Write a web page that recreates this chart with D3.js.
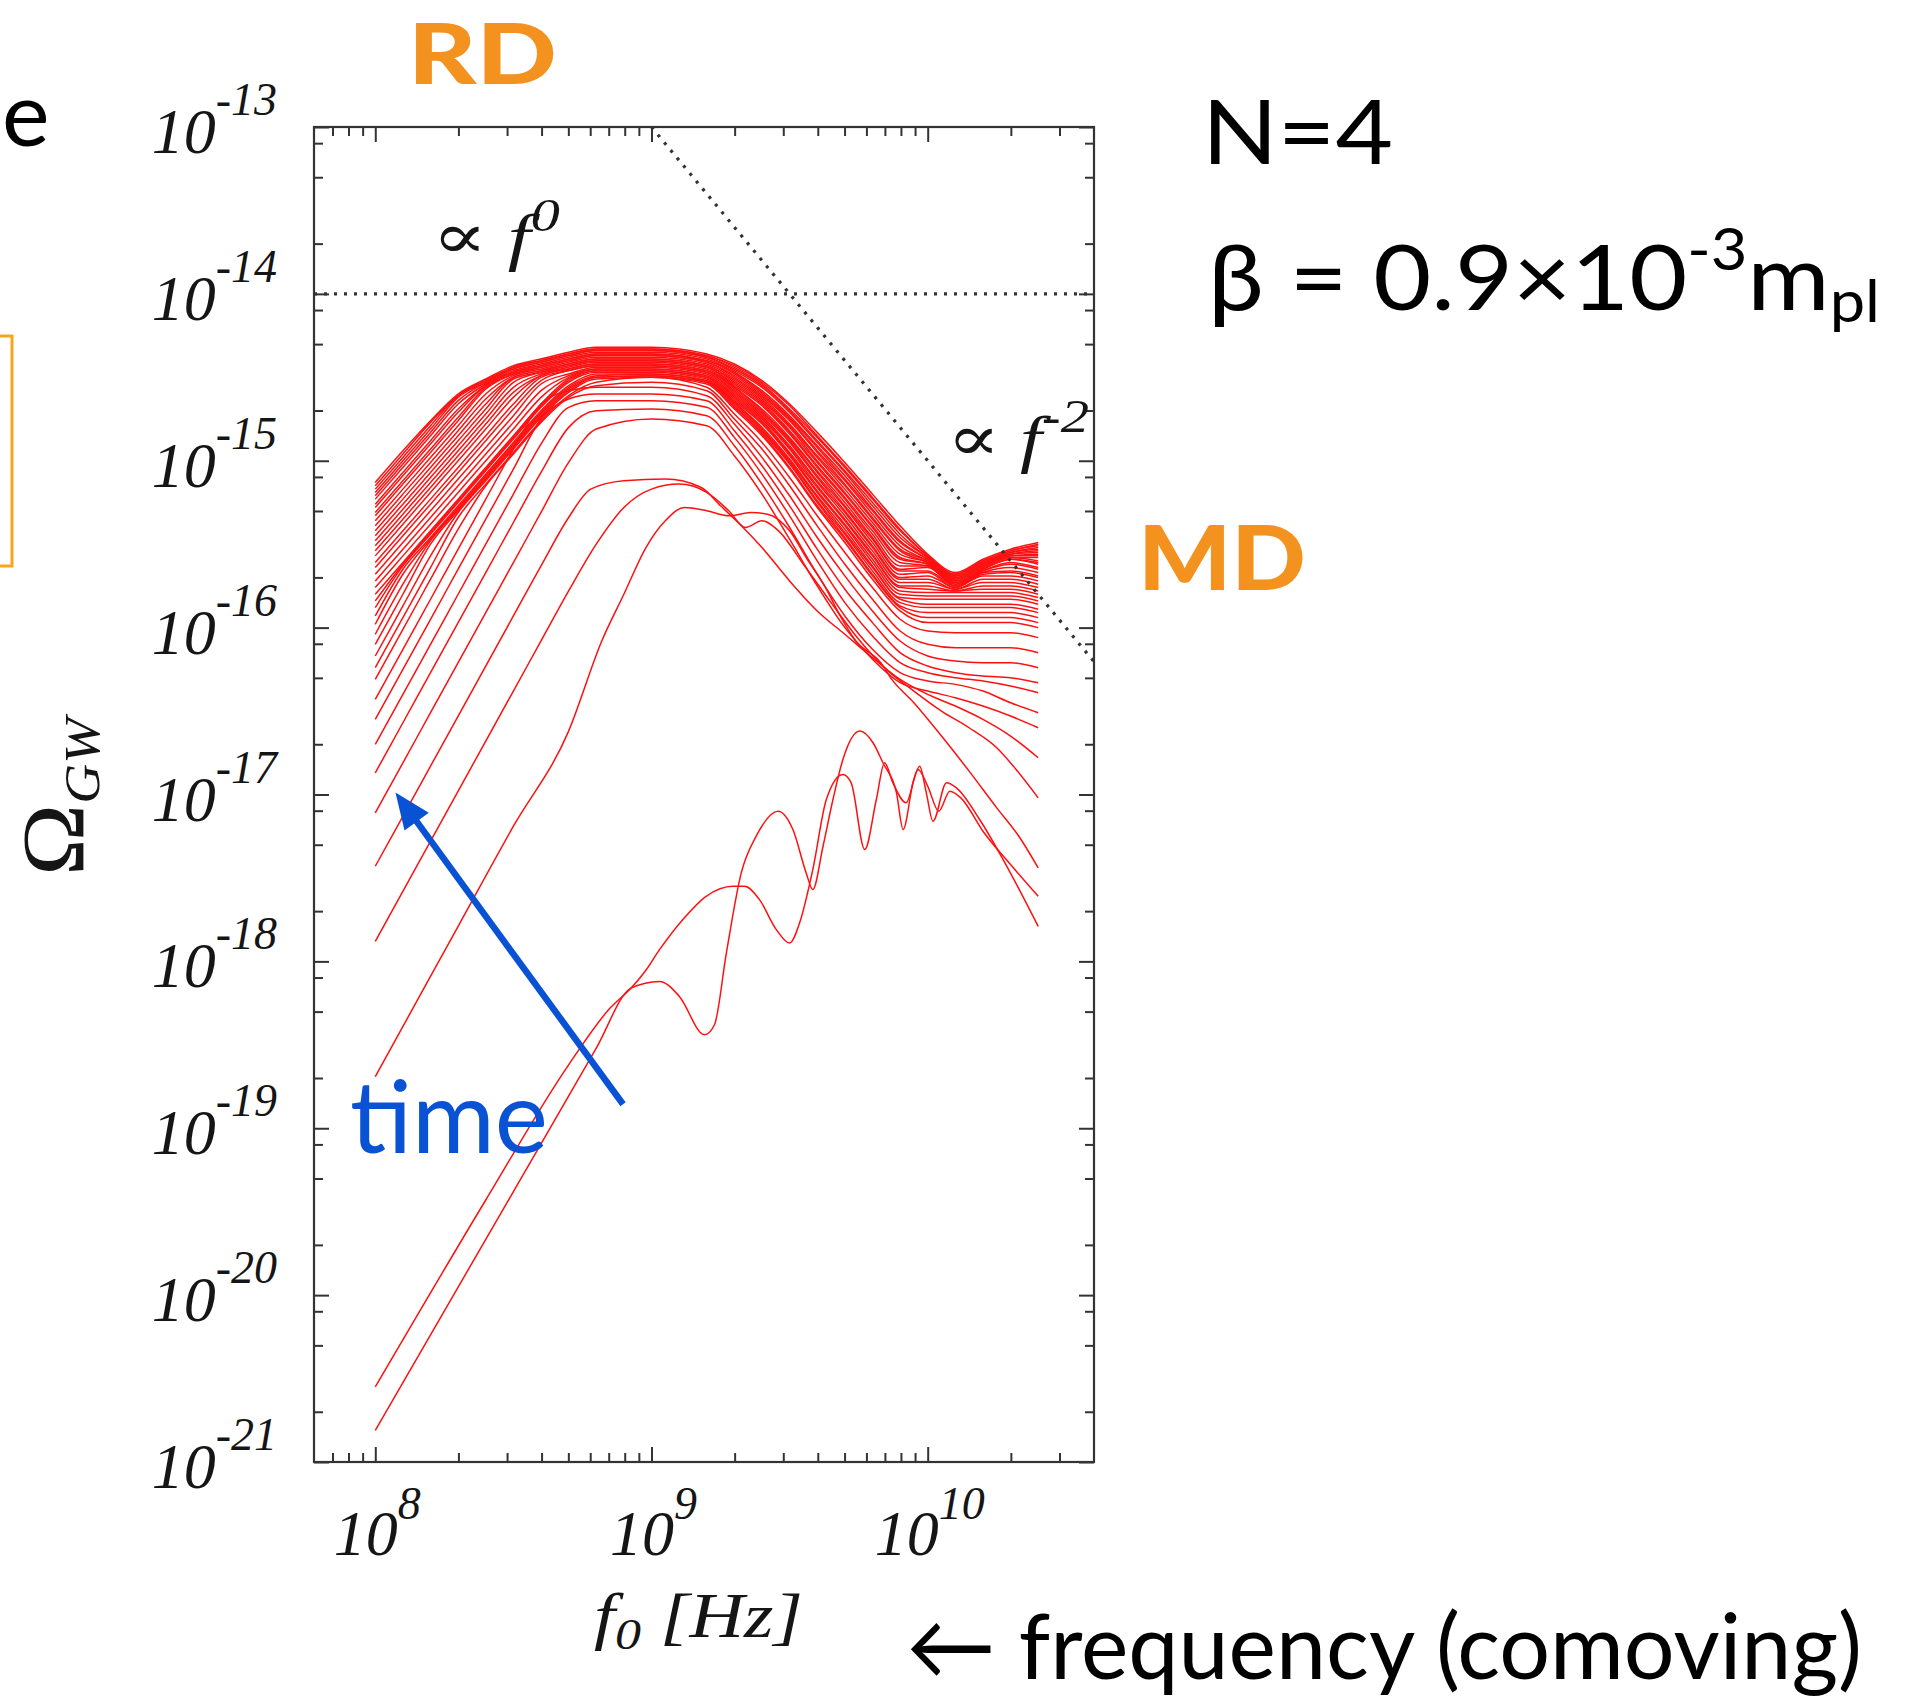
<!DOCTYPE html>
<html><head><meta charset="utf-8">
<script src="https://cdn.jsdelivr.net/npm/d3@7"></script>
<style>
html,body{margin:0;padding:0;background:#fff;overflow:hidden}
svg{display:block}
</style></head><body>
<svg id="chart" width="1908" height="1699"></svg>
<script>
// ---------------- DATA ----------------
// Axis ticks (powers of ten)
const xTickExponents = [8, 9, 10];
const yTickExponents = [-13, -14, -15, -16, -17, -18, -19, -20, -21];
const yMinorMantissas = [2, 5, 8];

// Shared frequency grid: log10(f0 / Hz)
const freqGridLog = [8.0, 8.1, 8.2, 8.3, 8.4, 8.5, 8.6, 8.7, 8.8, 9.0, 9.2, 9.3, 9.4, 9.5, 9.6, 9.7, 9.8, 9.9, 10.0, 10.1, 10.2, 10.3, 10.4];

// log10(Omega_GW) on the grid, one array per time snapshot (latest first)
const logOmegaT00 = [-15.13,-14.94,-14.76,-14.60,-14.51,-14.43,-14.39,-14.35,-14.32,-14.32,-14.36,-14.42,-14.52,-14.66,-14.83,-15.01,-15.20,-15.39,-15.56,-15.67,-15.59,-15.53,-15.49];
const logOmegaT01 = [-15.15,-14.96,-14.77,-14.61,-14.52,-14.44,-14.40,-14.36,-14.33,-14.33,-14.37,-14.43,-14.53,-14.67,-14.85,-15.03,-15.22,-15.41,-15.57,-15.68,-15.60,-15.54,-15.50];
const logOmegaT02 = [-15.17,-14.98,-14.79,-14.61,-14.52,-14.44,-14.40,-14.36,-14.33,-14.33,-14.37,-14.44,-14.54,-14.69,-14.86,-15.04,-15.23,-15.42,-15.57,-15.68,-15.60,-15.54,-15.51];
const logOmegaT03 = [-15.19,-15.00,-14.81,-14.62,-14.53,-14.45,-14.41,-14.37,-14.34,-14.34,-14.38,-14.45,-14.55,-14.70,-14.88,-15.06,-15.25,-15.44,-15.58,-15.69,-15.61,-15.55,-15.52];
const logOmegaT04 = [-15.21,-15.02,-14.83,-14.64,-14.53,-14.45,-14.41,-14.37,-14.34,-14.34,-14.38,-14.46,-14.56,-14.71,-14.89,-15.07,-15.27,-15.46,-15.58,-15.69,-15.61,-15.55,-15.53];
const logOmegaT05 = [-15.23,-15.04,-14.85,-14.66,-14.54,-14.46,-14.42,-14.38,-14.35,-14.35,-14.39,-14.47,-14.58,-14.73,-14.91,-15.09,-15.29,-15.48,-15.59,-15.70,-15.62,-15.56,-15.54];
const logOmegaT06 = [-15.26,-15.07,-14.88,-14.69,-14.55,-14.47,-14.43,-14.39,-14.36,-14.36,-14.40,-14.47,-14.59,-14.74,-14.92,-15.11,-15.30,-15.49,-15.59,-15.70,-15.62,-15.56,-15.55];
const logOmegaT07 = [-15.28,-15.09,-14.90,-14.71,-14.55,-14.47,-14.43,-14.39,-14.36,-14.36,-14.40,-14.48,-14.60,-14.75,-14.94,-15.12,-15.32,-15.51,-15.60,-15.71,-15.63,-15.57,-15.56];
const logOmegaT08 = [-15.31,-15.12,-14.93,-14.74,-14.56,-14.48,-14.44,-14.40,-14.37,-14.37,-14.41,-14.49,-14.61,-14.76,-14.95,-15.14,-15.34,-15.53,-15.60,-15.71,-15.63,-15.57,-15.57];
const logOmegaT09 = [-15.33,-15.14,-14.95,-14.76,-14.57,-14.48,-14.44,-14.40,-14.37,-14.37,-14.41,-14.50,-14.62,-14.78,-14.97,-15.15,-15.35,-15.54,-15.61,-15.72,-15.64,-15.58,-15.58];
const logOmegaT10 = [-15.36,-15.17,-14.98,-14.79,-14.60,-14.49,-14.45,-14.41,-14.38,-14.38,-14.42,-14.51,-14.63,-14.79,-14.98,-15.17,-15.37,-15.56,-15.61,-15.72,-15.64,-15.58,-15.60];
const logOmegaT11 = [-15.39,-15.20,-15.01,-14.82,-14.63,-14.50,-14.46,-14.42,-14.39,-14.39,-14.43,-14.52,-14.64,-14.80,-15.00,-15.19,-15.39,-15.58,-15.62,-15.73,-15.65,-15.59,-15.61];
const logOmegaT12 = [-15.42,-15.23,-15.04,-14.85,-14.66,-14.50,-14.46,-14.42,-14.39,-14.39,-14.43,-14.53,-14.65,-14.82,-15.01,-15.20,-15.40,-15.59,-15.62,-15.73,-15.65,-15.59,-15.62];
const logOmegaT13 = [-15.45,-15.26,-15.07,-14.88,-14.69,-14.51,-14.47,-14.43,-14.40,-14.40,-14.44,-14.54,-14.66,-14.83,-15.03,-15.22,-15.42,-15.61,-15.63,-15.74,-15.66,-15.61,-15.64];
const logOmegaT14 = [-15.48,-15.29,-15.10,-14.91,-14.72,-14.53,-14.47,-14.43,-14.40,-14.40,-14.44,-14.55,-14.67,-14.84,-15.04,-15.23,-15.44,-15.63,-15.63,-15.74,-15.66,-15.62,-15.65];
const logOmegaT15 = [-15.51,-15.32,-15.13,-14.94,-14.75,-14.56,-14.48,-14.44,-14.41,-14.41,-14.45,-14.56,-14.69,-14.86,-15.06,-15.25,-15.46,-15.65,-15.64,-15.75,-15.67,-15.64,-15.67];
const logOmegaT16 = [-15.54,-15.35,-15.16,-14.97,-14.78,-14.59,-14.49,-14.45,-14.42,-14.42,-14.46,-14.56,-14.70,-14.87,-15.07,-15.27,-15.47,-15.66,-15.66,-15.75,-15.67,-15.66,-15.69];
const logOmegaT17 = [-15.57,-15.38,-15.19,-15.00,-14.81,-14.62,-14.49,-14.45,-14.42,-14.42,-14.46,-14.57,-14.71,-14.88,-15.09,-15.28,-15.49,-15.68,-15.67,-15.76,-15.68,-15.67,-15.70];
const logOmegaT18 = [-15.61,-15.42,-15.23,-15.04,-14.85,-14.66,-14.50,-14.46,-14.43,-14.43,-14.47,-14.58,-14.72,-14.89,-15.10,-15.30,-15.51,-15.70,-15.69,-15.76,-15.69,-15.69,-15.72];
const logOmegaT19 = [-15.64,-15.45,-15.26,-15.07,-14.88,-14.69,-14.52,-14.46,-14.43,-14.43,-14.47,-14.59,-14.73,-14.91,-15.12,-15.31,-15.52,-15.71,-15.71,-15.77,-15.71,-15.71,-15.74];
const logOmegaT20 = [-15.68,-15.49,-15.30,-15.11,-14.92,-14.73,-14.54,-14.48,-14.44,-14.44,-14.48,-14.60,-14.74,-14.92,-15.13,-15.33,-15.54,-15.73,-15.73,-15.77,-15.73,-15.73,-15.76];
const logOmegaT21 = [-15.72,-15.53,-15.34,-15.15,-14.96,-14.77,-14.58,-14.49,-14.45,-14.45,-14.49,-14.61,-14.75,-14.93,-15.15,-15.35,-15.56,-15.75,-15.75,-15.78,-15.75,-15.75,-15.78];
const logOmegaT22 = [-15.76,-15.57,-15.38,-15.19,-15.00,-14.81,-14.62,-14.50,-14.45,-14.45,-14.49,-14.62,-14.76,-14.95,-15.16,-15.36,-15.57,-15.76,-15.77,-15.78,-15.77,-15.77,-15.80];
const logOmegaT23 = [-15.80,-15.61,-15.42,-15.23,-15.04,-14.85,-14.66,-14.51,-14.46,-14.46,-14.50,-14.63,-14.77,-14.96,-15.18,-15.38,-15.59,-15.78,-15.79,-15.79,-15.79,-15.79,-15.82];
const logOmegaT24 = [-15.84,-15.62,-15.43,-15.24,-15.05,-14.86,-14.67,-14.52,-14.46,-14.46,-14.50,-14.64,-14.78,-14.97,-15.19,-15.39,-15.61,-15.80,-15.81,-15.81,-15.81,-15.81,-15.84];
const logOmegaT25 = [-15.88,-15.63,-15.44,-15.25,-15.06,-14.87,-14.68,-14.53,-14.47,-14.47,-14.51,-14.65,-14.80,-14.99,-15.21,-15.41,-15.63,-15.82,-15.83,-15.83,-15.83,-15.83,-15.86];
const logOmegaT26 = [-15.93,-15.65,-15.46,-15.27,-15.08,-14.89,-14.70,-14.55,-14.48,-14.48,-14.52,-14.65,-14.81,-15.00,-15.22,-15.43,-15.64,-15.83,-15.86,-15.86,-15.86,-15.86,-15.89];
const logOmegaT27 = [-15.98,-15.68,-15.47,-15.28,-15.09,-14.90,-14.71,-14.56,-14.49,-14.48,-14.52,-14.66,-14.82,-15.01,-15.24,-15.44,-15.66,-15.85,-15.88,-15.88,-15.88,-15.88,-15.91];
const logOmegaT28 = [-16.04,-15.74,-15.48,-15.29,-15.10,-14.91,-14.72,-14.57,-14.50,-14.49,-14.53,-14.67,-14.83,-15.02,-15.25,-15.46,-15.68,-15.87,-15.91,-15.91,-15.91,-15.91,-15.94];
const logOmegaT29 = [-16.10,-15.80,-15.50,-15.30,-15.11,-14.92,-14.73,-14.58,-14.50,-14.49,-14.53,-14.68,-14.84,-15.04,-15.27,-15.47,-15.69,-15.88,-15.94,-15.94,-15.94,-15.94,-15.97];
const logOmegaT30 = [-16.17,-15.87,-15.57,-15.31,-15.12,-14.93,-14.74,-14.59,-14.51,-14.50,-14.54,-14.69,-14.85,-15.05,-15.28,-15.49,-15.71,-15.90,-15.97,-15.97,-15.97,-15.97,-16.00];
const logOmegaT31 = [-16.24,-15.94,-15.64,-15.34,-15.14,-14.95,-14.76,-14.61,-14.53,-14.50,-14.56,-14.72,-14.89,-15.10,-15.33,-15.55,-15.76,-15.95,-16.02,-16.03,-16.03,-16.03,-16.06];
const logOmegaT32 = [-16.31,-16.01,-15.71,-15.41,-15.15,-14.96,-14.77,-14.62,-14.55,-14.53,-14.58,-14.75,-14.93,-15.15,-15.39,-15.62,-15.83,-16.02,-16.10,-16.12,-16.12,-16.12,-16.15];
const logOmegaT33 = [-16.43,-16.13,-15.83,-15.53,-15.23,-14.93,-14.66,-14.58,-14.56,-14.56,-14.61,-14.78,-14.98,-15.21,-15.46,-15.69,-15.90,-16.08,-16.17,-16.20,-16.21,-16.21,-16.24];
const logOmegaT34 = [-16.55,-16.25,-15.95,-15.65,-15.35,-15.05,-14.75,-14.63,-14.60,-14.60,-14.64,-14.82,-15.03,-15.27,-15.53,-15.77,-15.97,-16.15,-16.23,-16.27,-16.29,-16.30,-16.33];
const logOmegaT35 = [-16.70,-16.40,-16.10,-15.80,-15.50,-15.20,-14.90,-14.68,-14.64,-14.64,-14.68,-14.86,-15.08,-15.33,-15.60,-15.85,-16.05,-16.21,-16.27,-16.30,-16.32,-16.35,-16.39];
const logOmegaT36 = [-16.87,-16.57,-16.27,-15.97,-15.67,-15.37,-15.07,-14.80,-14.70,-14.69,-14.73,-14.91,-15.14,-15.40,-15.68,-15.93,-16.13,-16.27,-16.32,-16.34,-16.38,-16.45,-16.51];
const logOmegaT37 = [-17.11,-16.81,-16.51,-16.21,-15.91,-15.61,-15.31,-15.01,-14.81,-14.75,-14.79,-14.97,-15.20,-15.47,-15.75,-16.00,-16.19,-16.33,-16.38,-16.42,-16.47,-16.53,-16.60];

// Early snapshots with their own knots: [log10 f, log10 Omega]
const logKnotsT38 = [[8.0,-17.43],[8.3,-16.53],[8.5,-15.93],[8.6,-15.63],[8.7,-15.34],[8.78,-15.17],[8.9,-15.12],[9.05,-15.11],[9.18,-15.16],[9.25,-15.27],[9.32,-15.38],[9.4,-15.52],[9.5,-15.72],[9.6,-15.90],[9.7,-16.04],[9.8,-16.18],[9.9,-16.31],[10.0,-16.40],[10.1,-16.47],[10.2,-16.55],[10.3,-16.65],[10.4,-16.78]];
const logKnotsT39 = [[8.0,-17.88],[8.3,-16.98],[8.5,-16.38],[8.6,-16.08],[8.7,-15.78],[8.8,-15.50],[8.9,-15.28],[9.0,-15.17],[9.1,-15.14],[9.2,-15.19],[9.28,-15.30],[9.34,-15.40],[9.40,-15.36],[9.46,-15.42],[9.55,-15.62],[9.65,-15.85],[9.75,-16.07],[9.85,-16.25],[9.95,-16.38],[10.05,-16.50],[10.15,-16.60],[10.25,-16.72],[10.32,-16.85],[10.4,-17.02]];
const logKnotsT40 = [[8.0,-18.69],[8.3,-17.79],[8.5,-17.19],[8.7,-16.62],[8.82,-16.08],[8.9,-15.80],[8.98,-15.52],[9.05,-15.36],[9.12,-15.28],[9.2,-15.30],[9.28,-15.33],[9.36,-15.31],[9.42,-15.32],[9.5,-15.42],[9.56,-15.58],[9.63,-15.76],[9.68,-15.92],[9.74,-16.08],[9.83,-16.21],[9.87,-16.31],[9.95,-16.45],[10.05,-16.65],[10.15,-16.86],[10.25,-17.08],[10.33,-17.25],[10.4,-17.44]];
const logKnotsT41 = [[8.0,-20.55],[8.4,-19.43],[8.7,-18.62],[8.85,-18.28],[8.926,-18.16],[8.981,-18.05],[9.029,-17.93],[9.113,-17.75],[9.198,-17.61],[9.295,-17.55],[9.337,-17.55],[9.391,-17.63],[9.452,-17.81],[9.50,-17.89],[9.536,-17.77],[9.584,-17.45],[9.633,-17.03],[9.693,-16.88],[9.723,-16.93],[9.772,-17.33],[9.814,-17.03],[9.844,-16.81],[9.874,-16.93],[9.922,-17.05],[9.965,-16.85],[10.0,-16.95],[10.04,-17.10],[10.08,-16.98],[10.12,-17.02],[10.2,-17.22],[10.3,-17.42],[10.4,-17.61]];
const logKnotsT42 = [[8.0,-20.81],[8.5,-19.38],[8.8,-18.52],[8.926,-18.16],[9.029,-18.12],[9.101,-18.21],[9.192,-18.44],[9.228,-18.38],[9.271,-17.95],[9.325,-17.47],[9.379,-17.25],[9.458,-17.10],[9.512,-17.21],[9.56,-17.47],[9.584,-17.57],[9.621,-17.31],[9.657,-17.03],[9.693,-16.79],[9.754,-16.62],[9.802,-16.69],[9.838,-16.81],[9.887,-16.99],[9.911,-17.21],[9.947,-16.93],[9.971,-16.83],[9.995,-16.99],[10.019,-17.16],[10.068,-16.93],[10.104,-16.96],[10.188,-17.15],[10.273,-17.39],[10.4,-17.79]];

// Reference power laws (dotted): Omega ∝ f^0 and Omega ∝ f^-2
const flatLineF = [6e7, 4e10];
const flatLineOmega = [1e-14, 1e-14];
const steepLineF = [1e9, 4e10];
const steepLineOmega = [1e-13, 6.25e-17];

// "time" arrow, in data units
const arrowTailLog = [8.897, -18.856];
const arrowTipLog = [8.073, -16.988];

// ---------------- DRAWING ----------------
const svg = d3.select("#chart");
const L = 314, R = 1094, T = 127, B = 1462;
const x = d3.scaleLog().domain([6e7, 4e10]).range([L, R]);
const y = d3.scaleLog().domain([1e-21, 1e-13]).range([B, T]);
const serif = "'Liberation Serif','Times New Roman','DejaVu Serif',serif";
const sans = "Lato,'Open Sans','Noto Sans',sans-serif";

svg.append("rect").attr("width",1908).attr("height",1699).attr("fill","#fff");
svg.append("defs").append("clipPath").attr("id","plotClip")
  .append("rect").attr("x",L).attr("y",T).attr("width",R-L).attr("height",B-T);

const gridSeries = [logOmegaT00,logOmegaT01,logOmegaT02,logOmegaT03,logOmegaT04,logOmegaT05,logOmegaT06,logOmegaT07,logOmegaT08,logOmegaT09,
  logOmegaT10,logOmegaT11,logOmegaT12,logOmegaT13,logOmegaT14,logOmegaT15,logOmegaT16,logOmegaT17,logOmegaT18,logOmegaT19,
  logOmegaT20,logOmegaT21,logOmegaT22,logOmegaT23,logOmegaT24,logOmegaT25,logOmegaT26,logOmegaT27,logOmegaT28,logOmegaT29,
  logOmegaT30,logOmegaT31,logOmegaT32,logOmegaT33,logOmegaT34,logOmegaT35,logOmegaT36,logOmegaT37];
const knotSeries = [logKnotsT38, logKnotsT39, logKnotsT40, logKnotsT41, logKnotsT42];
const allSeries = gridSeries.map(vals => vals.map((v,i)=>[freqGridLog[i], v])).concat(knotSeries);

const line = d3.line()
  .x(d => x(Math.pow(10, d[0])))
  .y(d => y(Math.pow(10, d[1])))
  .curve(d3.curveMonotoneX);

svg.append("g").attr("clip-path","url(#plotClip)")
  .selectAll("path").data(allSeries).join("path")
  .attr("d", line).attr("fill","none")
  .attr("stroke","#ff1010").attr("stroke-width",1.5).attr("stroke-linejoin","round");

// dotted reference lines
const dotted = svg.append("g").attr("clip-path","url(#plotClip)");
const lin2 = d3.line().x(d=>x(d[0])).y(d=>y(d[1]));
dotted.append("path").attr("d", lin2(flatLineF.map((f,i)=>[f, flatLineOmega[i]])))
  .attr("stroke","#333").attr("stroke-width",3.2).attr("stroke-dasharray","3 7").attr("fill","none");
dotted.append("path").attr("d", lin2(steepLineF.map((f,i)=>[f, steepLineOmega[i]])))
  .attr("stroke","#333").attr("stroke-width",3.2).attr("stroke-dasharray","3 7").attr("fill","none");

// ticks
const xMajor = xTickExponents.map(e => Math.pow(10, e));
const xMinor = [];
[7,8,9,10].forEach(d => { for (let m=2; m<=9; m++) { const v = m*Math.pow(10,d); if (v>6e7*1.001 && v<4e10*0.999) xMinor.push(v); } });
const yMajor = yTickExponents.map(e => Math.pow(10, e));
const yMinor = [];
for (let d=-21; d<-13; d++) yMinorMantissas.forEach(m => yMinor.push(m*Math.pow(10,d)));

function tickGroup(axis, scale, values, size, tr) {
  svg.append("g").attr("transform", tr)
    .call(axis(scale).tickValues(values).tickSizeInner(-size).tickSizeOuter(0).tickFormat(""))
    .call(g => g.select(".domain").remove())
    .call(g => g.selectAll("line").attr("stroke","#333").attr("stroke-width",2));
}
tickGroup(d3.axisBottom, x, xMajor, 15, `translate(0,${B})`);
tickGroup(d3.axisBottom, x, xMinor, 9, `translate(0,${B})`);
tickGroup(d3.axisTop, x, xMajor, 15, `translate(0,${T})`);
tickGroup(d3.axisTop, x, xMinor, 9, `translate(0,${T})`);
tickGroup(d3.axisLeft, y, yMajor, 15, `translate(${L},0)`);
tickGroup(d3.axisLeft, y, yMinor, 9, `translate(${L},0)`);
tickGroup(d3.axisRight, y, yMajor, 15, `translate(${R},0)`);
tickGroup(d3.axisRight, y, yMinor, 9, `translate(${R},0)`);

svg.append("rect").attr("x",L).attr("y",T).attr("width",R-L).attr("height",B-T)
  .attr("fill","none").attr("stroke","#333").attr("stroke-width",2.2);

// tick labels
const labG = svg.append("g").attr("font-family", serif).attr("font-style","italic").attr("fill","#151515");
yTickExponents.forEach(e => {
  const t = labG.append("text").attr("x", 277).attr("y", y(Math.pow(10,e)) + 26)
    .attr("text-anchor","end").attr("font-size",64);
  t.append("tspan").text("10");
  t.append("tspan").attr("font-size",46).attr("dy",-38).text(String(e));
});
xTickExponents.forEach(e => {
  const t = labG.append("text").attr("x", x(Math.pow(10,e)) + 2).attr("y", 1555)
    .attr("text-anchor","middle").attr("font-size",64);
  t.append("tspan").text("10");
  t.append("tspan").attr("font-size",46).attr("dy",-36).text(String(e));
});

// axis titles
const yt = svg.append("text").attr("transform","translate(83,876) rotate(-90)")
  .attr("font-family", serif).attr("font-size",88).attr("fill","#151515")
  .attr("textLength",158).attr("lengthAdjust","spacingAndGlyphs");
yt.append("tspan").text("Ω");
yt.append("tspan").attr("font-style","italic").attr("font-size",50).attr("dy",16).text("GW");

const xt = svg.append("text").attr("x",594).attr("y",1637)
  .attr("font-family", serif).attr("font-style","italic").attr("font-size",64).attr("fill","#151515")
  .attr("textLength",209).attr("lengthAdjust","spacingAndGlyphs");
xt.append("tspan").text("f");
xt.append("tspan").attr("font-size",44).attr("dy",12).text("0");
xt.append("tspan").attr("dy",-12).text(" [Hz]");

// power-law annotations
const p0 = svg.append("text").attr("x",432).attr("y",258).attr("font-family", serif)
  .attr("font-size",64).attr("fill","#151515").attr("textLength",128).attr("lengthAdjust","spacingAndGlyphs");
p0.append("tspan").text("∝ ");
p0.append("tspan").attr("font-style","italic").text("f");
p0.append("tspan").attr("font-style","italic").attr("font-size",46).attr("dy",-27).text("0");

const p2 = svg.append("text").attr("x",947).attr("y",460).attr("font-family", serif)
  .attr("font-size",64).attr("fill","#151515").attr("textLength",142).attr("lengthAdjust","spacingAndGlyphs");
p2.append("tspan").text("∝ ");
p2.append("tspan").attr("font-style","italic").text("f");
p2.append("tspan").attr("font-style","italic").attr("font-size",46).attr("dy",-28).text("-2");

// slide annotations
const orange = "#F3921E";
svg.append("text").attr("x",408).attr("y",84).attr("font-family",sans).attr("font-weight",900)
  .attr("font-size",84).attr("fill",orange).attr("textLength",149).attr("lengthAdjust","spacingAndGlyphs").text("RD");
svg.append("text").attr("x",1138).attr("y",590).attr("font-family",sans).attr("font-weight",900)
  .attr("font-size",90).attr("fill",orange).attr("textLength",168).attr("lengthAdjust","spacingAndGlyphs").text("MD");

svg.append("text").attr("x",1202).attr("y",164).attr("font-family",sans).attr("font-size",90)
  .attr("fill","#000").attr("textLength",191).attr("lengthAdjust","spacingAndGlyphs").text("N=4");

const beta = svg.append("text").attr("x",1208).attr("y",310).attr("font-family",sans).attr("font-size",92)
  .attr("fill","#000").attr("textLength",672).attr("lengthAdjust","spacingAndGlyphs");
beta.append("tspan").text("β = 0.9×10");
beta.append("tspan").attr("font-size",58).attr("dy",-40).text("-3");
beta.append("tspan").attr("dy",40).text("m");
beta.append("tspan").attr("font-size",58).attr("dy",12).text("pl");

svg.append("text").attr("x",2).attr("y",146).attr("font-family",sans).attr("font-size",90)
  .attr("fill","#000").text("e");
svg.append("rect").attr("x",-30).attr("y",336).attr("width",42).attr("height",230)
  .attr("fill","none").attr("stroke","#F9A51B").attr("stroke-width",3);

svg.append("text").attr("x",906).attr("y",1679).attr("font-family",sans).attr("font-size",92)
  .attr("fill","#000").attr("textLength",956).attr("lengthAdjust","spacingAndGlyphs").text("← frequency (comoving)");

// time arrow
const blue = "#0A52D4";
const tx = x(Math.pow(10,arrowTailLog[0])), ty = y(Math.pow(10,arrowTailLog[1]));
const hx = x(Math.pow(10,arrowTipLog[0])), hy = y(Math.pow(10,arrowTipLog[1]));
const len = Math.hypot(hx-tx, hy-ty), ux = (hx-tx)/len, uy = (hy-ty)/len;
const headL = 36, headW = 15;
const bx = hx - ux*headL, by = hy - uy*headL;
svg.append("line").attr("x1",tx).attr("y1",ty).attr("x2",bx+ux*2).attr("y2",by+uy*2)
  .attr("stroke",blue).attr("stroke-width",6.5);
svg.append("path").attr("d",`M${hx},${hy}L${bx - uy*headW},${by + ux*headW}L${bx + uy*headW},${by - ux*headW}Z`)
  .attr("fill",blue);

svg.append("text").attr("x",350).attr("y",1153).attr("font-family",sans).attr("font-size",100)
  .attr("fill",blue).attr("textLength",198).attr("lengthAdjust","spacingAndGlyphs").text("time");
</script>
</body></html>
